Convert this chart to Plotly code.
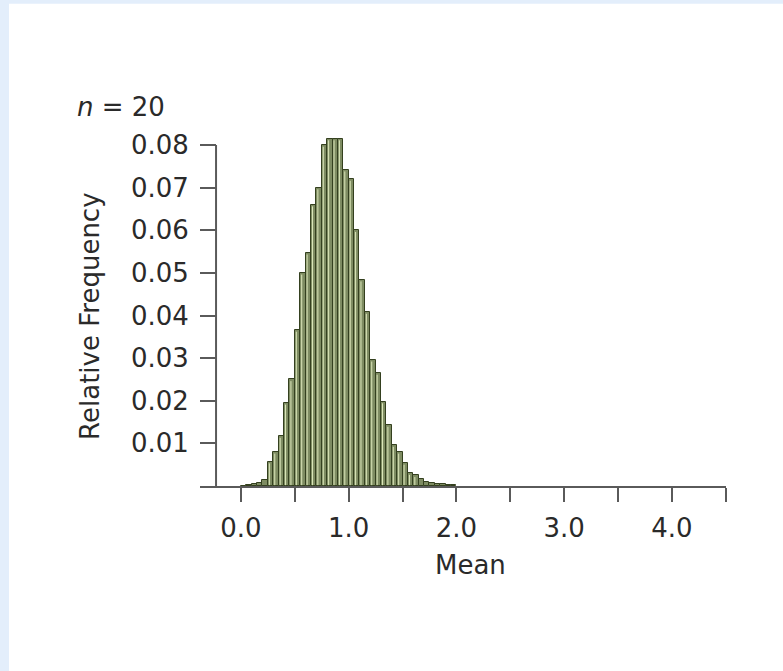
import plotly.graph_objects as go

# ---- data ----
bin_width = 0.05
bin_left_edges = [round(i * bin_width, 2) for i in range(40)]
rel_freq = [
    0.0001, 0.0002, 0.0004, 0.0006, 0.0013,
    0.0057, 0.0080, 0.0117, 0.0195, 0.0250,
    0.0366, 0.0500, 0.0547, 0.0660, 0.0700,
    0.0800, 0.0815, 0.0815, 0.0815, 0.0742,
    0.0720, 0.0600, 0.0484, 0.0408, 0.0296,
    0.0265, 0.0198, 0.0143, 0.0096, 0.0080,
    0.0054, 0.0030, 0.0025, 0.0016, 0.0010,
    0.0008, 0.0005, 0.0004, 0.0003, 0.0002,
]
x_tickvals = [0, 0.5, 1, 1.5, 2, 2.5, 3, 3.5, 4, 4.5]
x_ticktext = ["0.0", "", "1.0", "", "2.0", "", "3.0", "", "4.0", ""]
y_tickvals = [0.01, 0.02, 0.03, 0.04, 0.05, 0.06, 0.07, 0.08]
y_ticktext = ["0.01", "0.02", "0.03", "0.04", "0.05", "0.06", "0.07", "0.08"]

centers = [e + bin_width / 2 for e in bin_left_edges]

# highlight stripe on the left part of each bar (derived from the bars above)
hl_xs, hl_ys = [], []
for e, v in zip(bin_left_edges, rel_freq):
    if v > 0.002:
        xs = e + 0.014
        hl_xs += [xs, xs, None]
        hl_ys += [0.0002, v - 0.0004, None]

FONT = "DejaVu Sans"
AX = "#5a5a5a"
TXT = "#2a2a2a"

fig = go.Figure()
fig.add_trace(go.Bar(
    x=centers, y=rel_freq, width=bin_width,
    marker=dict(color="rgb(126,140,98)", line=dict(color="rgb(52,64,31)", width=1)),
    opacity=1, showlegend=False, hoverinfo="skip",
))
fig.add_trace(go.Scatter(
    x=hl_xs, y=hl_ys, mode="lines",
    line=dict(color="rgb(222,233,188)", width=1.0),
    showlegend=False, hoverinfo="skip",
))

fig.update_layout(
    width=783, height=671,
    margin=dict(l=200, r=57, t=134, b=185),
    paper_bgcolor="white", plot_bgcolor="white",
    barmode="overlay", bargap=0,
    font=dict(family=FONT, size=26, color=TXT),
    xaxis=dict(
        range=[-0.38, 4.502], tickmode="array", tickvals=x_tickvals, ticktext=x_ticktext,
        showline=True, linecolor=AX, linewidth=2, ticks="outside", ticklen=14,
        tickwidth=2, tickcolor=AX, showgrid=False, zeroline=False,
        ticklabelstandoff=4,
    ),
    yaxis=dict(
        range=[0, 0.08258], tickmode="array", tickvals=y_tickvals, ticktext=y_ticktext,
        anchor="free", position=0.0305, showline=False, ticks="outside", ticklen=16,
        tickwidth=2, tickcolor=AX, showgrid=False, zeroline=False,
        ticklabelstandoff=6,
    ),
    shapes=[
        dict(type="line", xref="paper", yref="y", x0=0.0305, x1=0.0305, y0=0, y1=0.08,
             line=dict(color=AX, width=2)),
        dict(type="rect", xref="paper", yref="paper", x0=-0.3803, x1=-0.3631,
             y0=-0.54, y1=1.381, fillcolor="#E3EEFB", line=dict(width=0), layer="below"),
        dict(type="rect", xref="paper", yref="paper", x0=-0.3803, x1=1.11,
             y0=1.370, y1=1.381, fillcolor="#E3EEFB", line=dict(width=0), layer="below"),
    ],
    annotations=[
        dict(text="Relative Frequency", xref="paper", yref="paper", x=-0.2091, y=0.4805,
             textangle=-90, showarrow=False, xanchor="center", yanchor="middle",
             font=dict(family=FONT, size=26, color=TXT)),
        dict(text="Mean", xref="paper", yref="paper", x=0.5152, y=-0.2244,
             showarrow=False, xanchor="center", yanchor="middle",
             font=dict(family=FONT, size=26, color=TXT)),
        dict(text="<i>n</i> = 20", xref="paper", yref="paper", x=-0.1502, y=1.0767,
             showarrow=False, xanchor="center", yanchor="middle",
             font=dict(family=FONT, size=26, color=TXT)),
    ],
)

fig.write_html("out.html")
